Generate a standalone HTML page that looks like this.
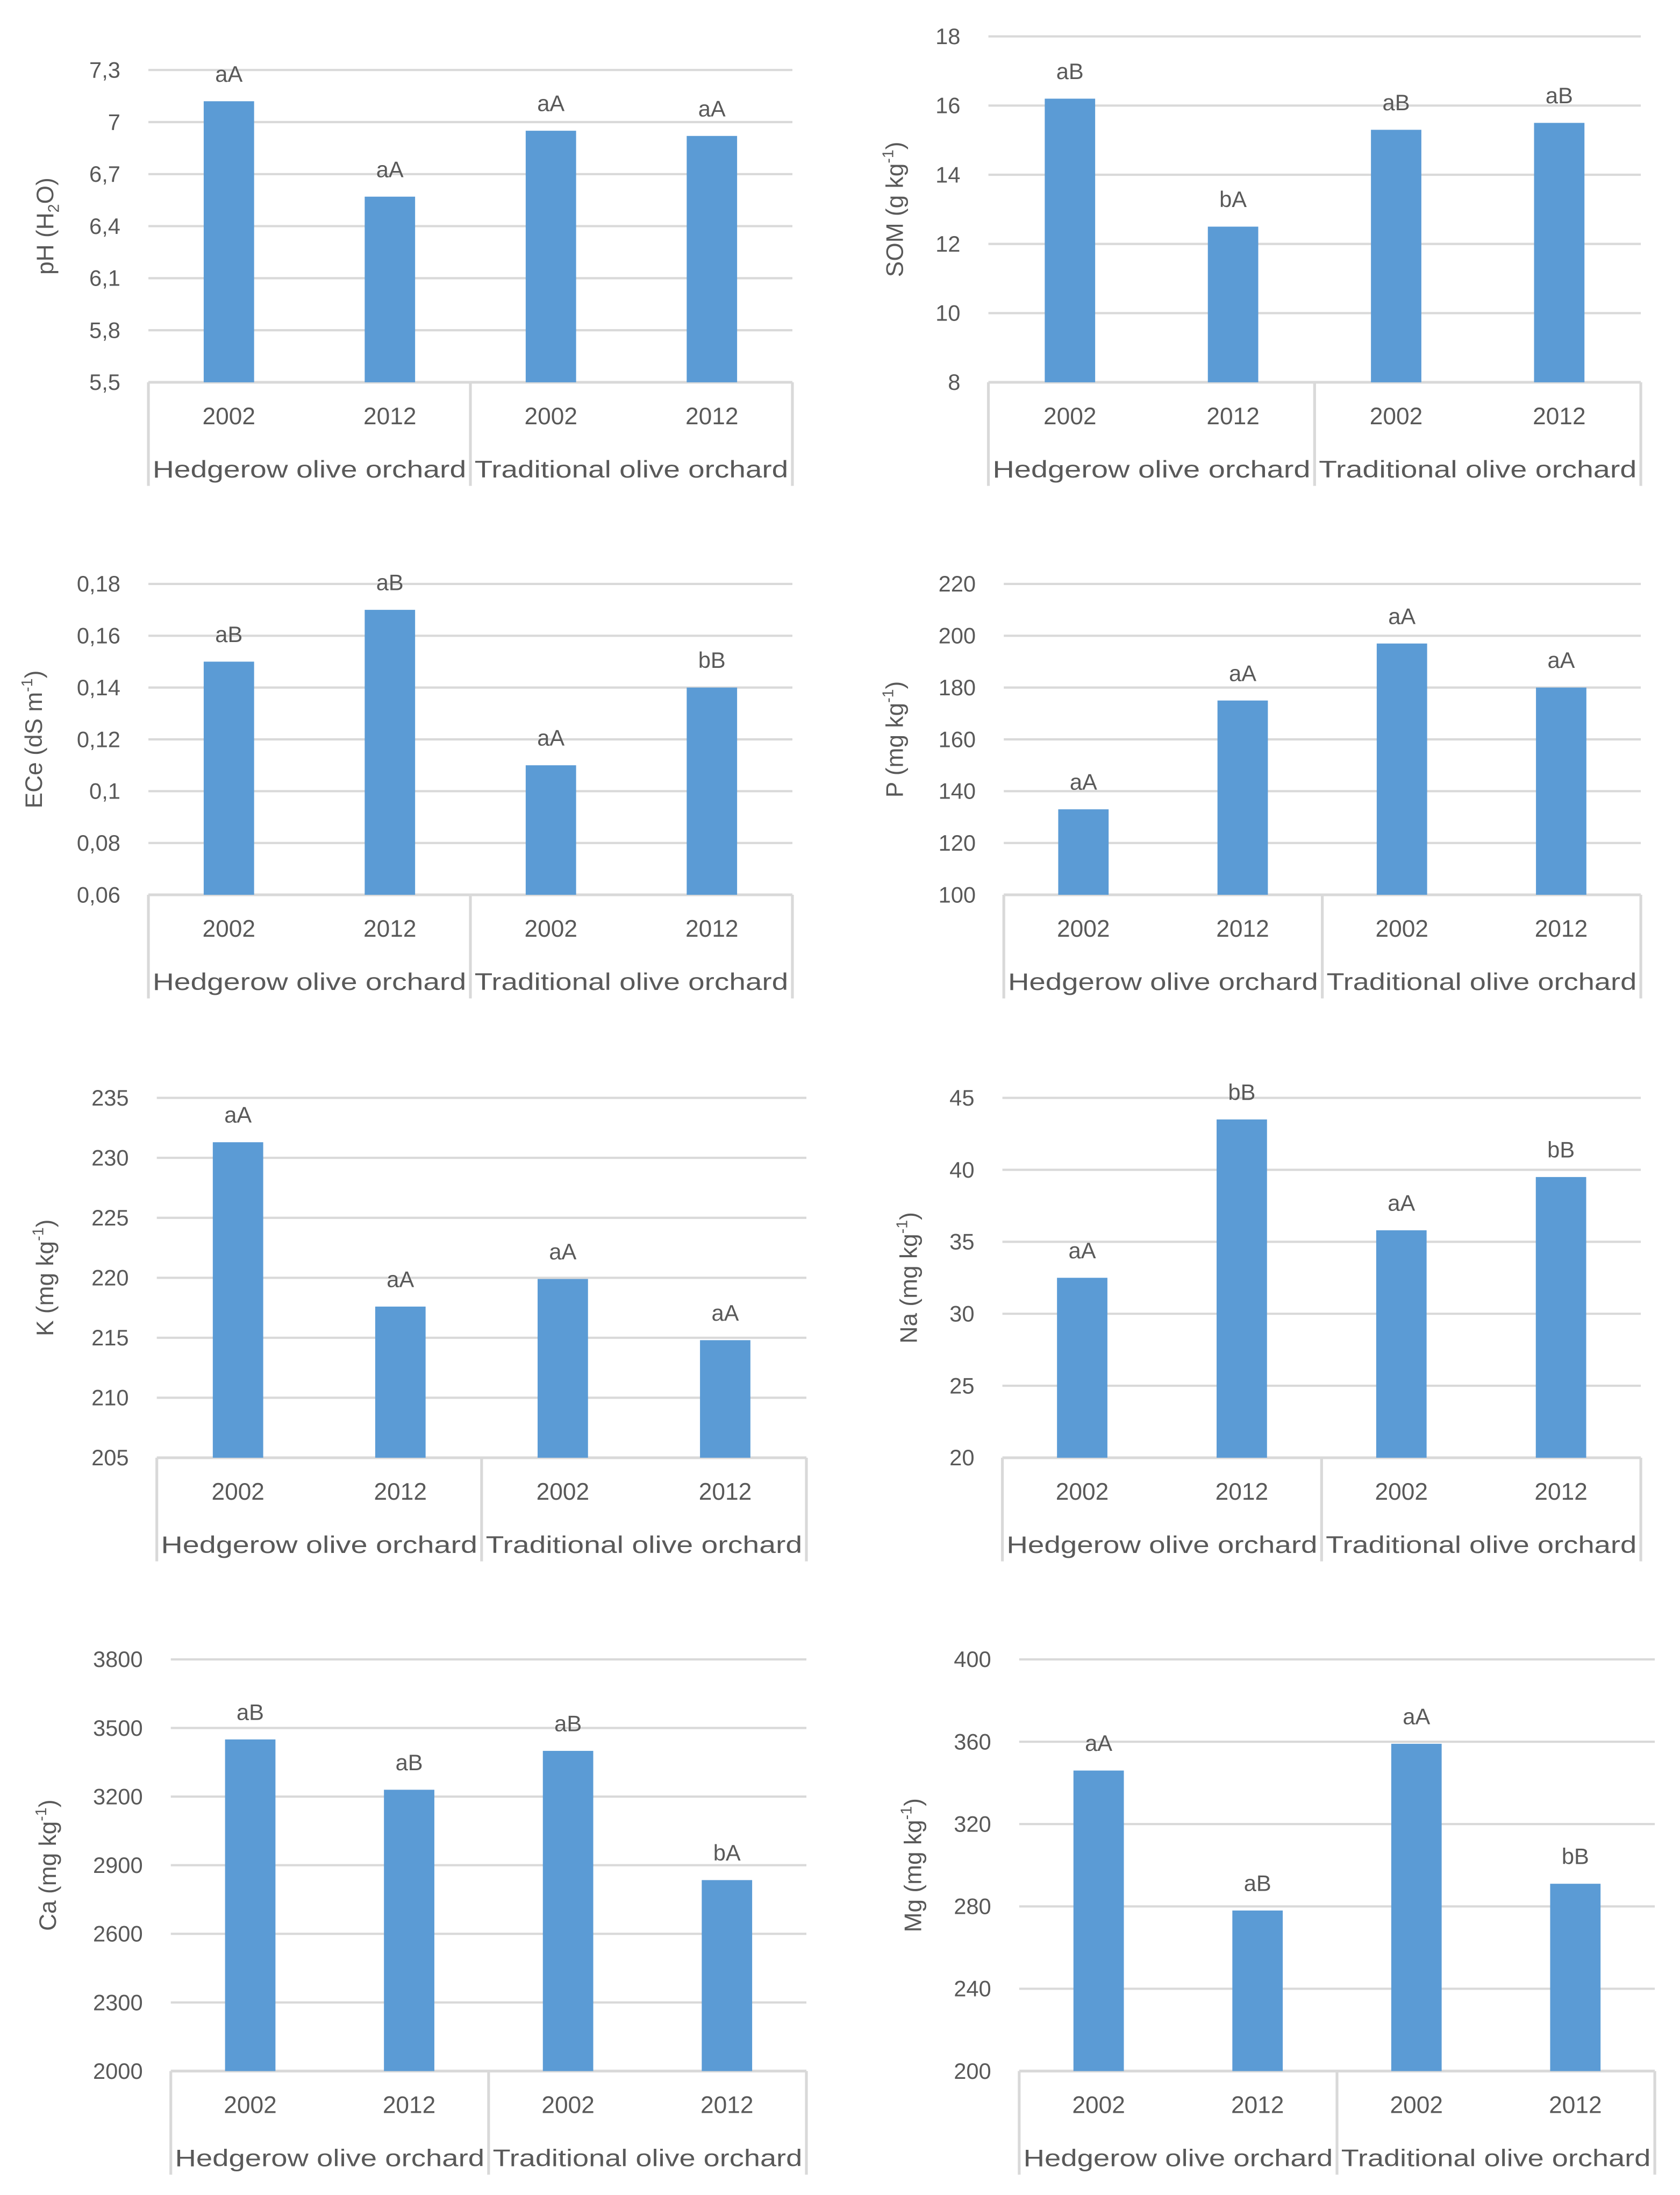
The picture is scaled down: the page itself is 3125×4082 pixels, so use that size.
<!DOCTYPE html>
<html><head><meta charset="utf-8">
<style>html,body{margin:0;padding:0;background:#fff}svg{display:block}text{font-family:"Liberation Sans",sans-serif;fill:#595959}</style>
</head><body>
<svg id="fig" width="3125" height="4082" viewBox="0 0 1200 1567.5" preserveAspectRatio="none" xmlns="http://www.w3.org/2000/svg"></svg>
<script>
const years = ["2002","2012","2002","2012"];
const groups = ["Hedgerow olive orchard","Traditional olive orchard"];
const phValues = [7.12, 6.57, 6.95, 6.92];
const phLetters = ["aA","aA","aA","aA"];
const phTicks = [5.5,5.8,6.1,6.4,6.7,7.0,7.3];
const phTickLabels = ["5,5","5,8","6,1","6,4","6,7","7","7,3"];
const somValues = [16.2, 12.5, 15.3, 15.5];
const somLetters = ["aB","bA","aB","aB"];
const somTicks = [8,10,12,14,16,18];
const somTickLabels = ["8","10","12","14","16","18"];
const eceValues = [0.15, 0.17, 0.11, 0.14];
const eceLetters = ["aB","aB","aA","bB"];
const eceTicks = [0.06,0.08,0.10,0.12,0.14,0.16,0.18];
const eceTickLabels = ["0,06","0,08","0,1","0,12","0,14","0,16","0,18"];
const pValues = [133, 175, 197, 180];
const pLetters = ["aA","aA","aA","aA"];
const pTicks = [100,120,140,160,180,200,220];
const pTickLabels = ["100","120","140","160","180","200","220"];
const kValues = [231.3, 217.6, 219.9, 214.8];
const kLetters = ["aA","aA","aA","aA"];
const kTicks = [205,210,215,220,225,230,235];
const kTickLabels = ["205","210","215","220","225","230","235"];
const naValues = [32.5, 43.5, 35.8, 39.5];
const naLetters = ["aA","bB","aA","bB"];
const naTicks = [20,25,30,35,40,45];
const naTickLabels = ["20","25","30","35","40","45"];
const caValues = [3450, 3230, 3400, 2835];
const caLetters = ["aB","aB","aB","bA"];
const caTicks = [2000,2300,2600,2900,3200,3500,3800];
const caTickLabels = ["2000","2300","2600","2900","3200","3500","3800"];
const mgValues = [346, 278, 359, 291];
const mgLetters = ["aA","aB","aA","bB"];
const mgTicks = [200,240,280,320,360,400];
const mgTickLabels = ["200","240","280","320","360","400"];

const charts = [
 {id:"ph", vals:phValues, lets:phLetters, ticks:phTicks, tl:phTickLabels, title:["pH (H","2","O)","sub"], L:106,R:566,T:50,B:273,tx:38},
 {id:"som", vals:somValues, lets:somLetters, ticks:somTicks, tl:somTickLabels, title:["SOM (g kg","-1",")","sup"], L:706,R:1172,T:26,B:273,tx:645},
 {id:"ece", vals:eceValues, lets:eceLetters, ticks:eceTicks, tl:eceTickLabels, title:["ECe (dS m","-1",")","sup"], L:106,R:566,T:417,B:639,tx:30},
 {id:"p", vals:pValues, lets:pLetters, ticks:pTicks, tl:pTickLabels, title:["P (mg kg","-1",")","sup"], L:717,R:1172,T:417,B:639,tx:645},
 {id:"k", vals:kValues, lets:kLetters, ticks:kTicks, tl:kTickLabels, title:["K (mg kg","-1",")","sup"], L:112,R:576,T:784,B:1041,tx:38},
 {id:"na", vals:naValues, lets:naLetters, ticks:naTicks, tl:naTickLabels, title:["Na (mg kg","-1",")","sup"], L:716,R:1172,T:784,B:1041,tx:655},
 {id:"ca", vals:caValues, lets:caLetters, ticks:caTicks, tl:caTickLabels, title:["Ca (mg kg","-1",")","sup"], L:122,R:576,T:1185,B:1479,tx:40},
 {id:"mg", vals:mgValues, lets:mgLetters, ticks:mgTicks, tl:mgTickLabels, title:["Mg (mg kg","-1",")","sup"], L:728,R:1182,T:1185,B:1479,tx:658}
];
const NS="http://www.w3.org/2000/svg";
const svg=document.getElementById("fig");
function mk(tag,attrs,parent,txt){const e=document.createElementNS(NS,tag);for(const k in attrs)e.setAttribute(k,attrs[k]);if(txt!==undefined)e.textContent=txt;parent.appendChild(e);return e;}
charts.forEach(c=>{
  const g=mk("g",{},svg);
  
  
  const mn=c.ticks[0], mx=c.ticks[c.ticks.length-1];
  const y=v=>c.B-(v-mn)/(mx-mn)*(c.B-c.T);
  const slot=(c.R-c.L)/years.length;
  const x=i=>c.L+slot*(i+0.5);
  c.ticks.forEach((t,i)=>{
    const ln=mk("line",{x1:c.L,x2:c.R,y1:y(t),y2:y(t),stroke:"#d9d9d9","stroke-width":i==0?2:1.6},g);
    
    
    const tx=mk("text",{x:c.L-20,y:y(t)+5.5,"text-anchor":"end","font-size":16},g,c.tl[i]);
    
    
  });
  c.vals.forEach((v,i)=>{
    const b=mk("rect",{x:x(i)-18,y:y(v),width:36,height:c.B-y(v),fill:"#5b9bd5"},g);
    
    
    const l=mk("text",{x:x(i),y:y(v)-14,"text-anchor":"middle","font-size":16},g,c.lets[i]);
    
    
    const yl=mk("text",{x:x(i),y:c.B+30,"text-anchor":"middle","font-size":17},g,years[i]);
    
    
  });
  [c.L,(c.L+c.R)/2,c.R].forEach(xx=>{
    const d=mk("line",{x1:xx,x2:xx,y1:c.B,y2:c.B+74,stroke:"#d9d9d9","stroke-width":2},g);
    
    
  });
  groups.forEach((gn,i)=>{
    const gl=mk("text",{x:c.L+(c.R-c.L)*(0.25+0.5*i),y:c.B+68,"text-anchor":"middle","font-size":17,textLength:(c.R-c.L)/2-6,lengthAdjust:"spacingAndGlyphs"},g,gn);
    
    
  });
  const cy=(c.T+c.B)/2;
  const t=mk("text",{x:c.tx,y:cy,"text-anchor":"middle","font-size":17,transform:`rotate(-90 ${c.tx} ${cy})`},g);
  
  
  mk("tspan",{},t,c.title[0]);
  mk("tspan",{"font-size":11,dy:c.title[3]=="sub"?4:-7},t,c.title[1]);
  mk("tspan",{dy:c.title[3]=="sub"?-4:7},t,c.title[2]);
});
</script>
</body></html>
